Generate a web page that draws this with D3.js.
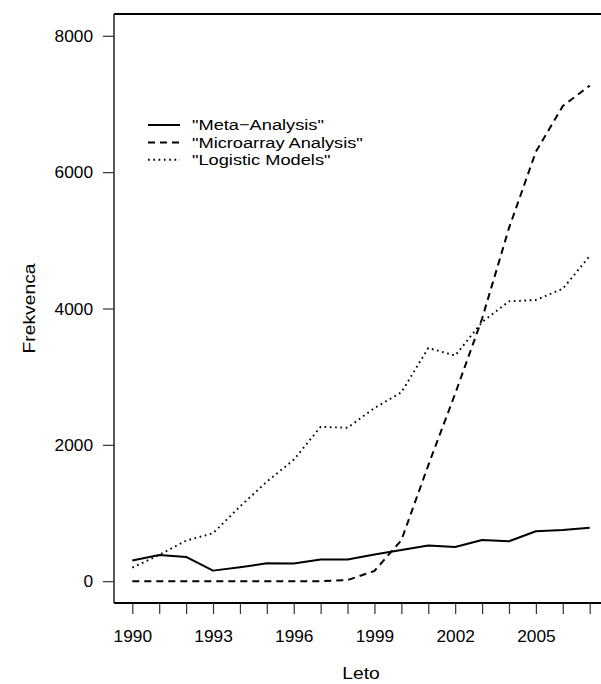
<!DOCTYPE html>
<html>
<head>
<meta charset="utf-8">
<script src="https://cdn.jsdelivr.net/npm/d3@7"></script>
<style>
  html, body { margin: 0; padding: 0; background: #fff; }
  svg { display: block; }
  text { font-family: "Liberation Sans", Arial, Helvetica, sans-serif; fill: #000; }
</style>
</head>
<body>
<svg id="chart" width="601" height="684"></svg>
<script>
const years = [1990,1991,1992,1993,1994,1995,1996,1997,1998,1999,2000,2001,2002,2003,2004,2005,2006,2007];
const metaAnalysis = [302,385,356,155,205,262,258,317,317,390,459,522,502,605,586,733,752,785];
const microarrayAnalysis = [0,0,0,0,0,0,0,0,15,150,600,1700,2750,3850,5180,6300,6970,7270];
const logisticModels = [200,385,595,703,1095,1460,1780,2265,2250,2540,2770,3420,3310,3800,4105,4125,4290,4770];
const seriesNames = ['"Meta\u2212Analysis"', '"Microarray Analysis"', '"Logistic Models"'];
const yTicks = [0,2000,4000,6000,8000];
const xTicks = years;
const xTickLabels = [1990,1993,1996,1999,2002,2005];
const xTitle = "Leto";
const yTitle = "Frekvenca";

const svg = d3.select("#chart");
const pLeft = 114, pRight = 608, pTop = 14, pBottom = 603;
const stretch = 1.17;

const x = d3.scaleLinear().domain([1990 - 0.68, 2007 + 0.68]).range([pLeft, pRight]);
const y = d3.scaleLinear().domain([-320, 8320]).range([pBottom, pTop]);

const series = [
  {name: seriesNames[0], values: metaAnalysis, dash: null, width: 2},
  {name: seriesNames[1], values: microarrayAnalysis, dash: "7,5", width: 2},
  {name: seriesNames[2], values: logisticModels, dash: "1.7,3.6", width: 1.9}
];

// lines
const line = d3.line().x((d, i) => x(years[i])).y(d => y(d));
svg.append("g").selectAll("path").data(series).join("path")
  .attr("d", d => line(d.values))
  .attr("fill", "none")
  .attr("stroke", "#000")
  .attr("stroke-width", d => d.width)
  .attr("stroke-dasharray", d => d.dash)
  .attr("stroke-linejoin", "round");

// box
svg.append("line").attr("x1", pLeft).attr("x2", pRight).attr("y1", pTop).attr("y2", pTop)
  .attr("stroke", "#000").attr("stroke-width", 2.2);
svg.append("line").attr("x1", pLeft).attr("x2", pRight).attr("y1", pBottom).attr("y2", pBottom)
  .attr("stroke", "#000").attr("stroke-width", 2.2);
svg.append("line").attr("x1", pLeft).attr("x2", pLeft).attr("y1", pTop).attr("y2", pBottom)
  .attr("stroke", "#222").attr("stroke-width", 1.5);

// x axis
const xAxis = d3.axisBottom(x).tickValues(xTicks)
  .tickFormat(d => xTickLabels.includes(d) ? String(d) : "")
  .tickSize(11).tickPadding(16);
const gx = svg.append("g").attr("transform", `translate(0,${pBottom})`).call(xAxis);
gx.select(".domain").remove();
gx.selectAll(".tick line").attr("stroke", "#333").attr("stroke-width", 1.2);
gx.selectAll(".tick text").attr("font-size", 17.3).attr("font-family", '"Liberation Sans", Arial, sans-serif');

// y axis
const yAxis = d3.axisLeft(y).tickValues(yTicks).tickFormat(d3.format("d"))
  .tickSize(11).tickPadding(10);
const gy = svg.append("g").attr("transform", `translate(${pLeft},0)`).call(yAxis);
gy.select(".domain").remove();
gy.selectAll(".tick line").attr("stroke", "#333").attr("stroke-width", 1.2);
gy.selectAll(".tick text").attr("font-size", 17.3).attr("font-family", '"Liberation Sans", Arial, sans-serif');

// axis titles
svg.append("text")
  .attr("transform", `translate(${(pLeft + pRight) / 2},679) scale(${stretch},1)`)
  .attr("text-anchor", "middle").attr("font-size", 16.5).text(xTitle);
svg.append("text")
  .attr("transform", `translate(35,${(pTop + pBottom) / 2}) rotate(-90) scale(${stretch},1)`)
  .attr("text-anchor", "middle").attr("font-size", 16.5).text(yTitle);

// legend
const lg = svg.append("g");
const rowY = i => 125 + i * 17.4;
lg.selectAll("line").data(series).join("line")
  .attr("x1", 148).attr("x2", 180)
  .attr("y1", (d, i) => rowY(i)).attr("y2", (d, i) => rowY(i))
  .attr("stroke", "#000").attr("stroke-width", d => d.width)
  .attr("stroke-dasharray", d => d.dash);
lg.selectAll("text").data(series).join("text")
  .attr("transform", (d, i) => `translate(192,${rowY(i)}) scale(1.2,1)`)
  .attr("dy", "0.36em")
  .attr("font-size", 15.2).text(d => d.name);
</script>
</body>
</html>
